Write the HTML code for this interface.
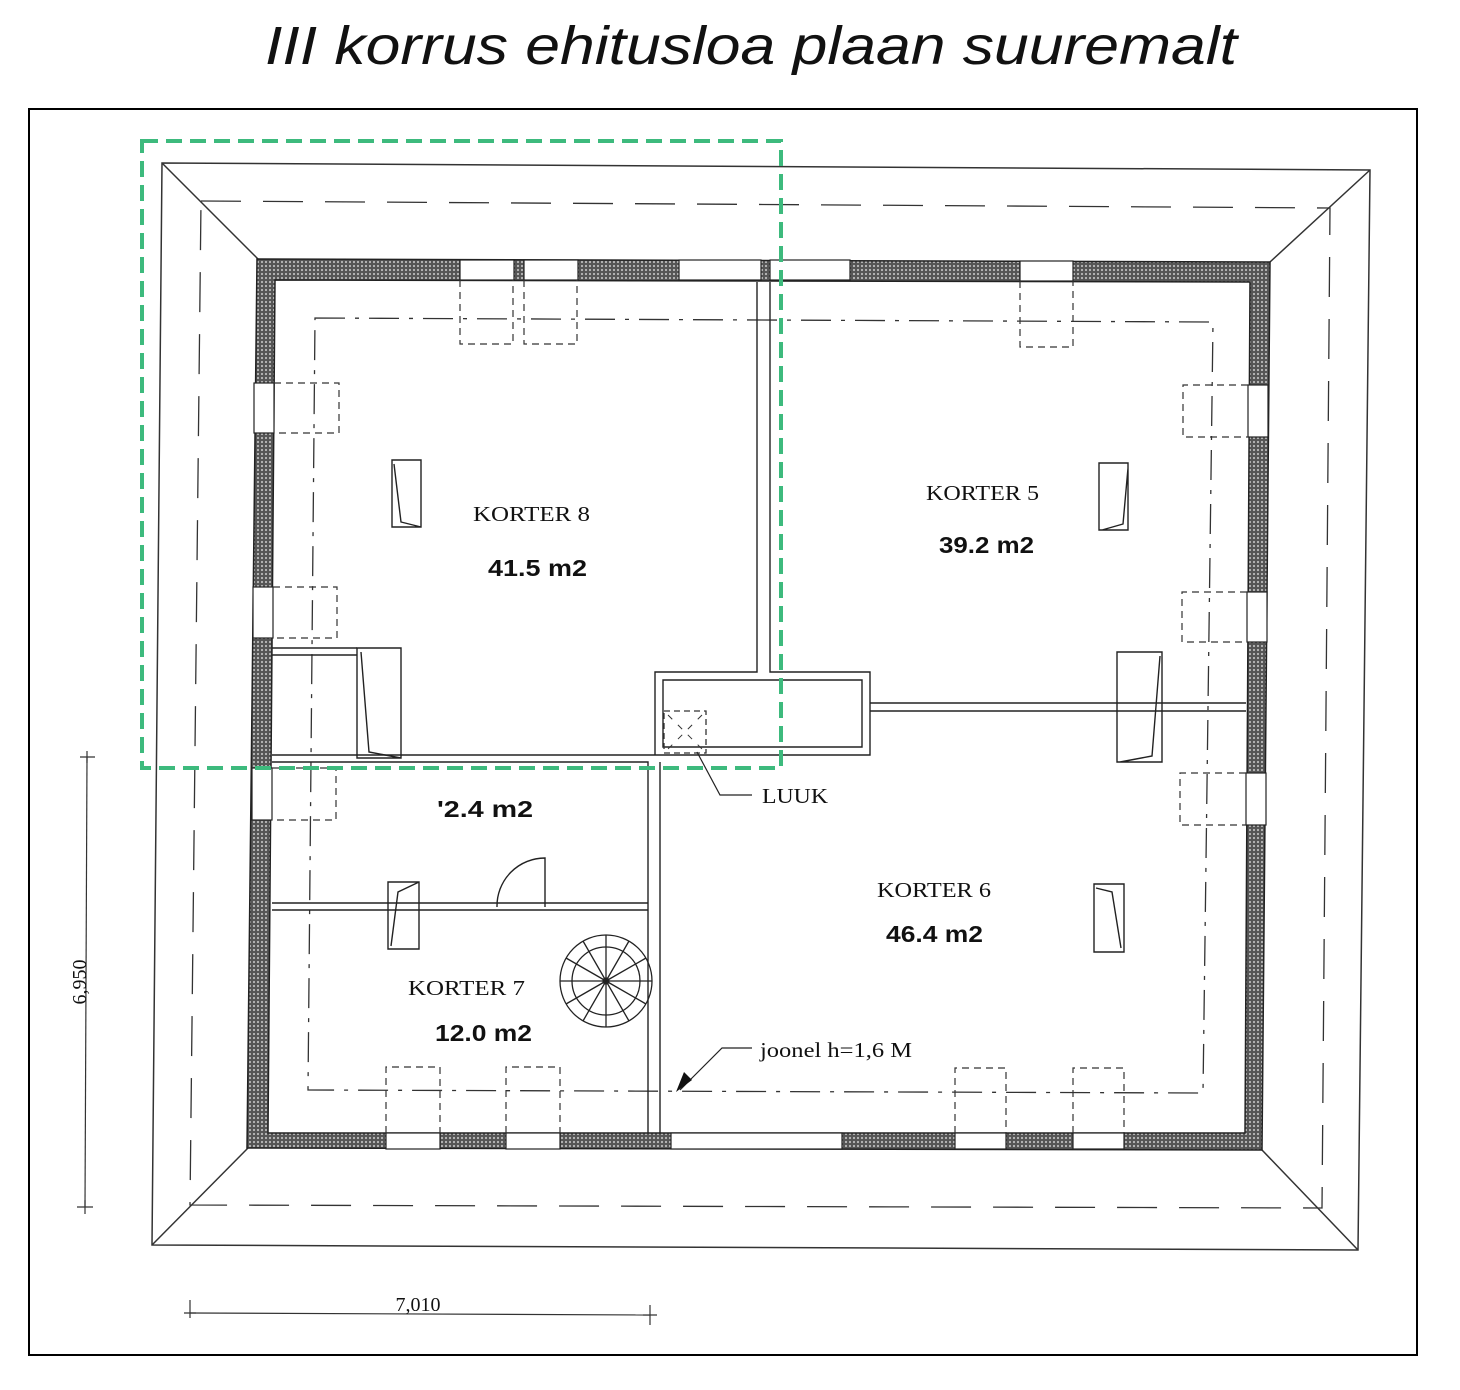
<!DOCTYPE html>
<html><head><meta charset="utf-8"><style>
html,body{margin:0;padding:0;background:#fff;}
svg{display:block;}
</style></head><body>
<svg width="1460" height="1390" viewBox="0 0 1460 1390" xmlns="http://www.w3.org/2000/svg">
<defs>
<pattern id="h" width="4" height="4" patternUnits="userSpaceOnUse">
<rect width="4" height="4" fill="#555"/>
<circle cx="2" cy="2" r="1.1" fill="#bbb"/>
</pattern>
</defs>
<rect width="1460" height="1390" fill="#fff"/>
<text x="265" y="64" textLength="972" lengthAdjust="spacingAndGlyphs" font-family="Liberation Sans, sans-serif" font-style="italic" font-size="54" fill="#111">III korrus ehitusloa plaan suuremalt</text>
<rect x="29" y="109" width="1388" height="1246" fill="none" stroke="#000" stroke-width="2"/>

<g fill="none" stroke="#333" stroke-width="1.5">
<polygon points="162,163 1370,170 1358,1250 152,1245"/>
<polygon points="201,201 1330,208 1322,1208 190,1205" stroke-dasharray="40,22" stroke-width="1.3"/>
<line x1="162" y1="163" x2="258" y2="259"/>
<line x1="1370" y1="170" x2="1270" y2="262"/>
<line x1="1358" y1="1250" x2="1262" y2="1150"/>
<line x1="152" y1="1245" x2="248" y2="1148"/>
</g>

<path d="M257,259 L1270,262 L1262,1150 L247,1148 Z M275,280 L268,1133 L1245,1133 L1250,282 Z" fill="url(#h)" fill-rule="evenodd" stroke="#222" stroke-width="1.5"/>
<g fill="#fff" stroke="#222" stroke-width="1.2">
<rect x="460" y="260" width="54" height="20"/>
<rect x="524" y="260" width="54" height="20"/>
<rect x="679" y="260" width="82" height="20"/>
<rect x="770" y="260" width="80" height="20"/>
<rect x="1020" y="261" width="53" height="20"/>
<rect x="386" y="1133" width="54" height="16"/>
<rect x="506" y="1133" width="54" height="16"/>
<rect x="671" y="1133" width="171" height="16"/>
<rect x="955" y="1133" width="51" height="16"/>
<rect x="1073" y="1133" width="51" height="16"/>
<rect x="254" y="383" width="20" height="50"/>
<rect x="253" y="587" width="20" height="51"/>
<rect x="252" y="768" width="20" height="52"/>
<rect x="1248" y="385" width="20" height="52"/>
<rect x="1247" y="592" width="20" height="50"/>
<rect x="1246" y="773" width="20" height="52"/>
</g>

<g fill="none" stroke="#333" stroke-width="1.2" stroke-dasharray="7,5">
<path d="M460,280 V344 H513 V280 M524,280 V344 H577 V280"/>
<path d="M1020,281 V347 H1073 V281"/>
<path d="M274,383 H339 V433 H274 M273,587 H337 V638 H273 M272,768 H336 V820 H272"/>
<path d="M1248,385 H1183 V437 H1248 M1247,592 H1182 V642 H1247 M1246,773 H1180 V825 H1246"/>
<path d="M386,1133 V1067 H440 V1133 M506,1133 V1067 H560 V1133"/>
<path d="M955,1133 V1068 H1006 V1133 M1073,1133 V1068 H1124 V1133"/>
</g>

<polygon points="315,318 1213,322 1203,1093 308,1090" fill="none" stroke="#333" stroke-width="1.3" stroke-dasharray="30,10,4,10"/>

<g fill="none" stroke="#222" stroke-width="1.4">
<path d="M757,282 V672 H655 V755 H272 M770,282 V672 H870 V755 H655"/>
<path d="M663,680 H862 V747 H663 Z"/>
<path d="M870,703 H1246 M870,711 H1246"/>
<path d="M272,762 H648 V1133 M660,762 V1133"/>
<path d="M272,903 H648 M272,910 H648"/>
<path d="M272,648 H357 M272,655 H357"/>
<path d="M392,460 H421 V527 H392 Z M394,464 L401,522 L421,527"/>
<path d="M357,648 H401 V758 H357 Z M361,652 L369,752 L401,758"/>
<path d="M1099,463 H1128 V530 H1099 Z M1128,468 L1123,524 L1102,530"/>
<path d="M1117,652 H1162 V762 H1117 Z M1160,656 L1152,756 L1120,762"/>
<path d="M1094,884 H1124 V952 H1094 Z M1096,888 L1112,892 L1121,948"/>
<path d="M388,882 H419 V949 H388 Z M391,946 L398,892 L419,882"/>
<path d="M497,907 A48,48 0 0 1 545,858 V907"/>
</g>
<rect x="664" y="711" width="42" height="42" fill="none" stroke="#333" stroke-width="1.3" stroke-dasharray="6,4"/>
<path d="M668,715 L702,749 M702,715 L668,749" stroke="#333" stroke-width="1" stroke-dasharray="6,8"/>
<g fill="none" stroke="#222" stroke-width="1.3">
<circle cx="606" cy="981" r="46"/>
<circle cx="606" cy="981" r="34"/>
<circle cx="606" cy="981" r="3"/>
<line x1="606" y1="981" x2="606" y2="935"/><line x1="606" y1="981" x2="629" y2="941"/>
<line x1="606" y1="981" x2="646" y2="958"/><line x1="606" y1="981" x2="652" y2="981"/>
<line x1="606" y1="981" x2="646" y2="1004"/><line x1="606" y1="981" x2="629" y2="1021"/>
<line x1="606" y1="981" x2="606" y2="1027"/><line x1="606" y1="981" x2="583" y2="1021"/>
<line x1="606" y1="981" x2="566" y2="1004"/><line x1="606" y1="981" x2="560" y2="981"/>
<line x1="606" y1="981" x2="566" y2="958"/><line x1="606" y1="981" x2="583" y2="941"/>
</g>
<g fill="none" stroke="#222" stroke-width="1.2">
<path d="M697,752 L720,795 H752"/>
<path d="M680,1090 L722,1048 H752"/>
</g>
<polygon points="676,1092 684,1072 692,1080" fill="#111"/>

<g font-family="Liberation Serif, serif" font-size="21" fill="#111">
<text x="473" y="521" textLength="117" lengthAdjust="spacingAndGlyphs">KORTER 8</text>
<text x="926" y="500" textLength="113" lengthAdjust="spacingAndGlyphs">KORTER 5</text>
<text x="877" y="897" textLength="114" lengthAdjust="spacingAndGlyphs">KORTER 6</text>
<text x="408" y="995" textLength="117" lengthAdjust="spacingAndGlyphs">KORTER 7</text>
<text x="762" y="803" textLength="66" lengthAdjust="spacingAndGlyphs">LUUK</text>
<text x="760" y="1057" textLength="152" lengthAdjust="spacingAndGlyphs">joonel h=1,6 M</text>
</g>
<g font-family="Liberation Sans, sans-serif" font-size="23" font-weight="bold" fill="#111">
<text x="488" y="576" textLength="99" lengthAdjust="spacingAndGlyphs">41.5 m2</text>
<text x="939" y="553" textLength="95" lengthAdjust="spacingAndGlyphs">39.2 m2</text>
<text x="886" y="942" textLength="97" lengthAdjust="spacingAndGlyphs">46.4 m2</text>
<text x="435" y="1041" textLength="97" lengthAdjust="spacingAndGlyphs">12.0 m2</text>
<text x="437" y="817" textLength="96" lengthAdjust="spacingAndGlyphs">'2.4 m2</text>
</g>

<g stroke="#333" stroke-width="1.2" fill="none">
<line x1="87" y1="757" x2="85" y2="1207"/>
<path d="M80,757 H95 M87,751 V763 M77,1207 H93 M85,1200 V1214"/>
<line x1="190" y1="1313" x2="650" y2="1315"/>
<path d="M190,1300 V1318 M184,1313 H196 M650,1305 V1325 M643,1315 H657"/>
</g>
<text transform="translate(86,982) rotate(-90)" text-anchor="middle" font-family="Liberation Serif, serif" font-size="20" fill="#111">6,950</text>
<text x="418" y="1311" text-anchor="middle" font-family="Liberation Serif, serif" font-size="20" fill="#111">7,010</text>

<rect x="142" y="141" width="639" height="627" fill="none" stroke="#3dba7d" stroke-width="4" stroke-dasharray="16,8"/>
</svg>
</body></html>
